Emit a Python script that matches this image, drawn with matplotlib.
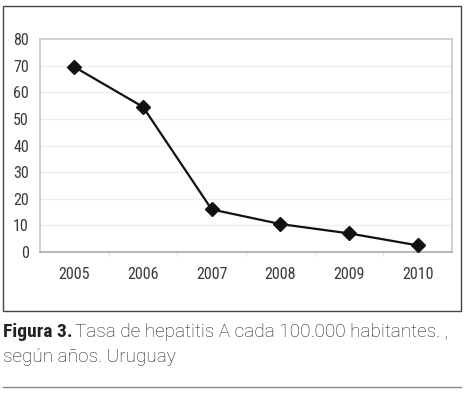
import matplotlib
matplotlib.use("Agg")
import matplotlib.pyplot as plt
from matplotlib.patches import Rectangle
from matplotlib.lines import Line2D
from matplotlib import font_manager

years = ["2005", "2006", "2007", "2008", "2009", "2010"]
rates = [69.5, 54.5, 16, 10.5, 7, 2.5]
yticks = [0, 10, 20, 30, 40, 50, 60, 70, 80]

names = {f.name for f in font_manager.fontManager.ttflist}
narrow = "DejaVu Sans"
for cand in ["Roboto Condensed", "Liberation Sans Narrow", "Open Sans Condensed", "Noto Sans Condensed"]:
    if cand in names:
        narrow = cand
        break
body = "Roboto" if "Roboto" in names else narrow
FP = dict(family=narrow, stretch="condensed")
BP = dict(family=body)

W, H = 472, 396
fig = plt.figure(figsize=(W/100, H/100), dpi=100)
ax = fig.add_axes([40/W, 1-252/H, 412/W, 213/H])

x = list(range(len(years)))
ax.plot(x, rates, color="#111111", lw=1.6, marker="D", ms=7, mfc="#111111", mec="#111111", zorder=3)
ax.set_xlim(-0.5, len(years)-0.5)
ax.set_ylim(0, 80)
ax.set_yticks(yticks)
ax.set_yticklabels([str(v) for v in yticks], fontsize=11.5, color="#3a3a3a", **FP)
ax.set_xticks(x)
ax.set_xticklabels(years, fontsize=11.5, color="#3a3a3a", **FP)
ax.tick_params(axis="y", length=0, pad=8)
ax.tick_params(axis="x", length=0, pad=11)
ax.set_xticks([i + 0.5 for i in range(len(years)-1)], minor=True)
ax.tick_params(axis="x", which="minor", length=3, color="#dddddd", direction="out")
for yv in yticks[1:-1]:
    ax.axhline(yv, color="#eeeeee", lw=1, zorder=1)
for s in ax.spines.values():
    s.set_color("#c8c8c8")
    s.set_linewidth(1.2)
ax.spines["bottom"].set_color("#aaaaaa")

fig.patches.append(Rectangle((3/W, 1-311/H), 458/W, 305/H, transform=fig.transFigure,
                             fill=False, edgecolor="#444444", lw=1))
fig.lines.append(Line2D([3/W, 461/W], [1-387/H, 1-387/H], transform=fig.transFigure,
                        color="#888888", lw=1))

fig.text(3/W, 1-337/H, "Figura 3.", fontweight="black", fontsize=14,
         color="#222222", va="baseline", ha="left", **FP)
fig.text(75/W, 1-337/H, "Tasa de hepatitis A cada 100.000 habitantes. ,",
         fontsize=13.7, fontweight="light", color="#1e1e1e", va="baseline", ha="left", **BP)
fig.text(3/W, 1-362/H, "según años. Uruguay", fontsize=13.7, fontweight="light",
         color="#1e1e1e", va="baseline", ha="left", **BP)

fig.savefig("out.png", dpi=100)
